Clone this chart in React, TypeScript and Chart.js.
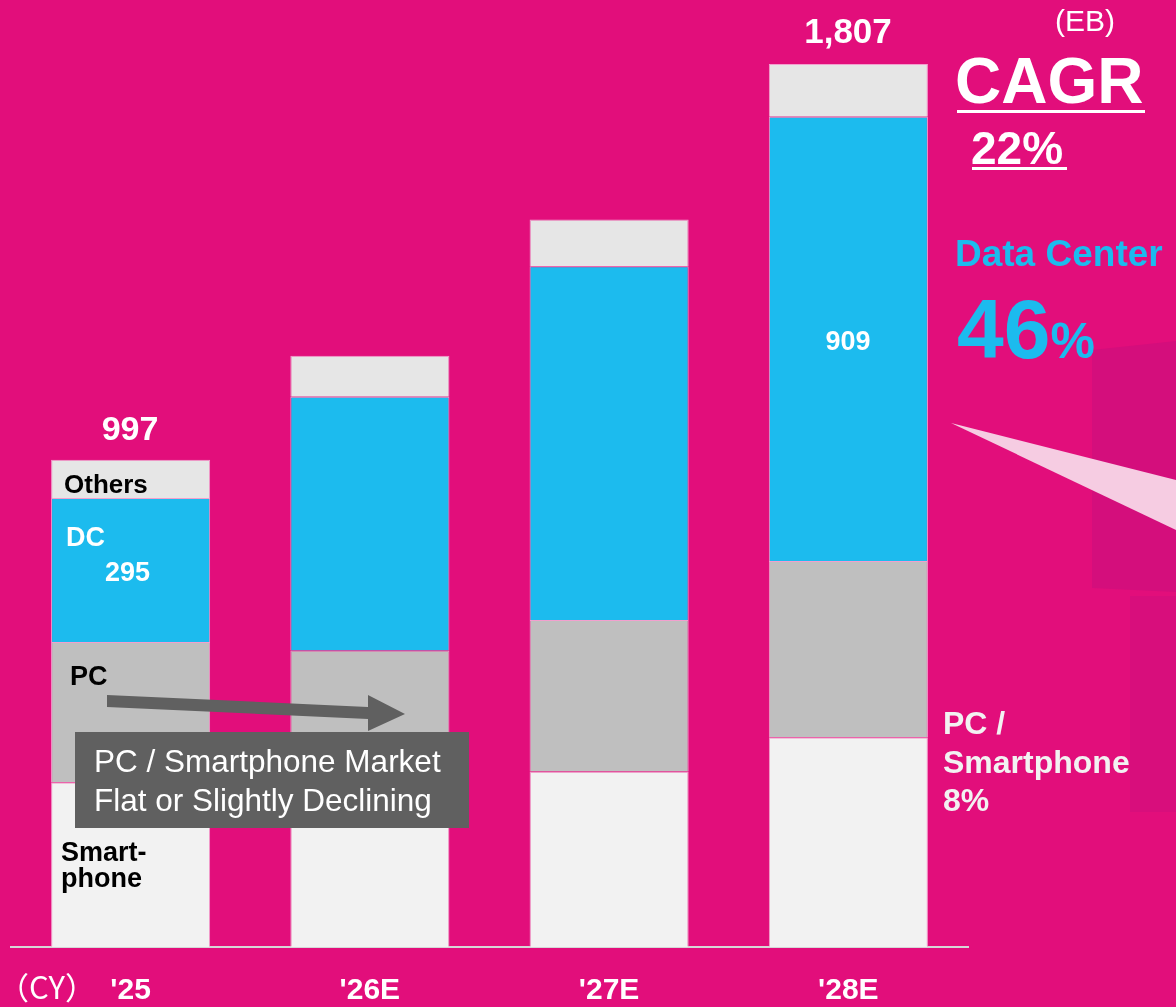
import React, { useEffect, useRef } from "react";
import { Chart, registerables } from "chart.js";

Chart.register(...registerables);

const categories = ["'25", "'26E", "'27E", "'28E"];
const smartphone = [337, 330, 359, 429];
const pc = [287, 277, 310, 361];
const dc = [295, 519, 724, 909];
const others = [78, 84, 96, 108];
const totals = ["997", "", "", "1,807"];
const Y_MAX = 1938;

const BG = "#E20E7B";
const FONT = "'Liberation Sans', Arial, Helvetica, sans-serif";

const abs = (s: React.CSSProperties): React.CSSProperties => ({
  position: "absolute",
  fontFamily: FONT,
  whiteSpace: "nowrap",
  lineHeight: 1,
  margin: 0,
  ...s,
});

export default function App() {
  const ref = useRef<HTMLCanvasElement | null>(null);

  useEffect(() => {
    document.body.style.margin = "0";
    const ctx = ref.current;
    if (!ctx) return;
    const segBorder = "rgba(245,175,215,0.9)";
    const chart = new Chart(ctx, {
      type: "bar",
      data: {
        labels: categories,
        datasets: [
          { label: "Smartphone", data: smartphone, backgroundColor: "#F2F2F2", borderColor: segBorder, borderWidth: 1 },
          { label: "PC", data: pc, backgroundColor: "#BFBFBF", borderColor: segBorder, borderWidth: 1 },
          { label: "DC", data: dc, backgroundColor: "#1CBBEE", borderColor: segBorder, borderWidth: 1 },
          { label: "Others", data: others, backgroundColor: "#E6E6E6", borderColor: segBorder, borderWidth: 1 },
        ],
      },
      options: {
        responsive: false,
        animation: false,
        devicePixelRatio: 1,
        layout: { padding: { left: 11, right: 208, top: 0, bottom: 0 } },
        plugins: { legend: { display: false }, tooltip: { enabled: false } },
        datasets: { bar: { categoryPercentage: 1, barPercentage: 0.665 } },
        scales: {
          x: {
            stacked: true,
            grid: { display: false, drawTicks: false },
            border: { display: true, color: "#D6D6D6", width: 2 },
            ticks: {
              color: "#FFFFFF",
              padding: 26,
              font: { family: FONT, size: 30, weight: "bold" },
              maxRotation: 0,
            },
            afterFit: (s: any) => {
              s.height = 60;
            },
          },
          y: {
            stacked: true,
            display: false,
            min: 0,
            max: Y_MAX,
          },
        },
      },
    });
    return () => chart.destroy();
  }, []);

  const white = "#FFFFFF";
  const cyan = "#1CBBEE";
  const black = "#000000";

  return (
    <div style={{ position: "fixed", left: 0, top: 0, width: 1176, height: 1007, background: BG, overflow: "hidden" }}>
      <svg width={1176} height={1007} style={{ position: "absolute", left: 0, top: 0 }}>
        <polygon points="1092,350 1176,341 1176,592 1092,588" fill="#D40E7C" />
        <polygon points="1130,596 1176,596 1176,812 1130,812" fill="#D80E7C" />
        <polygon points="951,423 1176,480 1176,530" fill="#F6CCE2" />
      </svg>
      <canvas ref={ref} width={1176} height={1007} style={{ position: "absolute", left: 0, top: 0, display: "block" }} />

      <svg width={1176} height={1007} style={{ position: "absolute", left: 0, top: 0, pointerEvents: "none" }}>
        <polygon points="107,695 368,707 368,695 405,714 368,731 368,719 107,707" fill="#606060" />
      </svg>

      {/* totals */}
      <div style={abs({ left: 80, width: 100, top: 411, textAlign: "center", fontSize: 34, fontWeight: 700, color: white })}>{totals[0]}</div>
      <div style={abs({ left: 778, width: 140, top: 13, textAlign: "center", fontSize: 35, fontWeight: 700, color: white })}>{totals[3]}</div>

      {/* in-bar labels */}
      <div style={abs({ left: 64, top: 471, fontSize: 26, fontWeight: 700, color: black })}>Others</div>
      <div style={abs({ left: 66, top: 524, fontSize: 27, fontWeight: 700, color: white })}>DC</div>
      <div style={abs({ left: 105, top: 559, fontSize: 27, fontWeight: 700, color: white })}>295</div>
      <div style={abs({ left: 798, width: 100, top: 328, textAlign: "center", fontSize: 27, fontWeight: 700, color: white })}>909</div>
      <div style={abs({ left: 70, top: 663, fontSize: 27, fontWeight: 700, color: black })}>PC</div>
      <div style={abs({ left: 61, top: 839, fontSize: 27, lineHeight: "26px", fontWeight: 700, color: black })}>
        Smart-
        <br />
        phone
      </div>

      {/* gray box */}
      <div style={abs({ left: 75, top: 732, width: 394, height: 96, background: "#606060" })} />
      <div style={abs({ left: 94, top: 742, fontSize: 31.5, lineHeight: "39px", color: white })}>
        PC / Smartphone Market
        <br />
        Flat or Slightly Declining
      </div>

      {/* right side */}
      <div style={abs({ left: 1055, top: 6, fontSize: 30, color: white })}>(EB)</div>
      <div style={abs({ left: 955, top: 49, fontSize: 64, fontWeight: 700, color: white })}>CAGR</div>
      <div style={abs({ left: 957, top: 110, width: 188, height: 3, background: white })} />
      <div style={abs({ left: 971, top: 125, fontSize: 46, fontWeight: 700, color: white })}>22%</div>
      <div style={abs({ left: 972, top: 167, width: 95, height: 3, background: white })} />
      <div style={abs({ left: 955, top: 235, fontSize: 37, fontWeight: 700, color: cyan })}>Data Center</div>
      <div style={abs({ left: 957, top: 287, fontSize: 84, fontWeight: 700, color: cyan })}>
        46<span style={{ fontSize: 50, lineHeight: 0 }}>%</span>
      </div>
      <div style={abs({ left: 943, top: 704, fontSize: 32, lineHeight: "38.5px", fontWeight: 700, color: "#F2F2F2" })}>
        PC /
        <br />
        Smartphone
        <br />
        8%
      </div>

      {/* axis unit */}
      <div style={abs({ left: -2, top: 970, fontSize: 31, color: white, fontFamily: "'Noto Sans CJK JP', " + FONT })}>（CY）</div>
    </div>
  );
}
